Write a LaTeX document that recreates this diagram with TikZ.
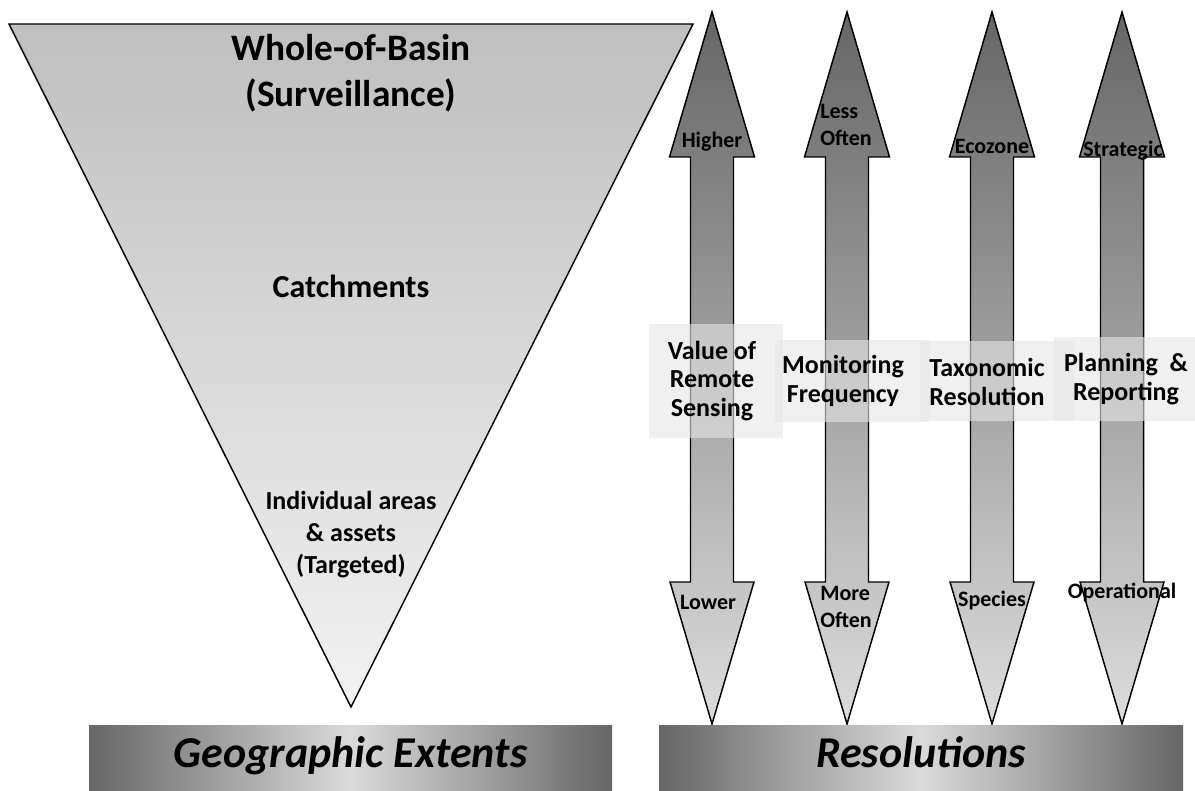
\documentclass[tikz,border=0pt]{standalone}
\usepackage{fontspec}
\setmainfont{Carlito}
\definecolor{trtop}{HTML}{BFBFBF}
\definecolor{trbot}{HTML}{F2F2F2}
\definecolor{artop}{HTML}{666666}
\definecolor{arbot}{HTML}{DCDCDC}
\definecolor{bardark}{HTML}{666666}
\definecolor{barlight}{HTML}{DADADA}
\definecolor{boxgray}{HTML}{E6E6E6}
\begin{document}
\begin{tikzpicture}[x=0.75pt,y=-0.75pt,
  tri/.style={draw=black, line width=1.1pt, top color=trtop, bottom color=trbot},
  dblarrow/.style={draw=black, line width=1.1pt, top color=artop, bottom color=arbot},
  barbox/.style={left color=bardark, right color=bardark, middle color=barlight,
    minimum width=393pt, minimum height=49.5pt, inner sep=0pt},
  bartxt/.style={font=\fontsize{33}{38}\selectfont\bfseries\itshape, inner sep=0pt, anchor=base},
  lblbox/.style={fill=boxgray, fill opacity=0.6, inner sep=0pt},
  lbltxt/.style={inner sep=0pt, align=center, font=\fontsize{19.5}{21.5}\selectfont\bfseries},
  headlbl/.style={font=\fontsize{16.5}{20}\selectfont\bfseries, inner sep=0pt},
  tritxt/.style={font=\fontsize{19.5}{24}\selectfont\bfseries, inner sep=0pt, align=center}
]
\useasboundingbox (0,0) rectangle (1195,791);
% funnel
\draw[tri] (9,24) -- (693,24) -- (351,707) -- cycle;
\node[inner sep=0pt, align=center, font=\fontsize{28}{34.5}\selectfont\bfseries] (whole) at (351,73) {Whole-of-Basin\\(Surveillance)};
\node[tritxt, font=\fontsize{24}{28}\selectfont\bfseries] (catch) at (351,286) {Catchments};
\node[tritxt] (indiv) at (351,535) {Individual areas\\\& assets\\(Targeted)};
% double arrows
\foreach \c in {712,847,992,1122}{
  \draw[dblarrow] (\c,12) -- (\c+42.5,157) -- (\c+21.5,157) -- (\c+21.5,582)
    -- (\c+42,582) -- (\c,724) -- (\c-42,582) -- (\c-21.5,582) -- (\c-21.5,157)
    -- (\c-42.5,157) -- cycle;
}
% head labels
\node[headlbl, anchor=base] (higher) at (712,148) {Higher};
\node[headlbl, align=left] (less) at (846,125) {Less\\Often};
\node[headlbl, anchor=base] (eco) at (992,154) {Ecozone};
\node[headlbl, anchor=base] (strat) at (1123,157) {Strategic};
\node[headlbl, anchor=base] (lower) at (708,609) {Lower};
\node[headlbl, align=left] (more) at (846,607) {More\\Often};
\node[headlbl, anchor=base] (species) at (992,606) {Species};
\node[headlbl, anchor=base] (oper) at (1122,598) {Operational};
% label boxes
\node[lblbox, minimum width=100.5pt, minimum height=85.5pt] (value) at (715.5,381) {};
\node[lblbox, minimum width=116.25pt, minimum height=61.5pt] (monit) at (852,381) {};
\node[lblbox, minimum width=115.5pt, minimum height=60pt] (taxo) at (997,381) {};
\node[lblbox, minimum width=105.75pt, minimum height=63pt] (plan) at (1124.5,379) {};
\node[lbltxt] (valuet) at (712,381) {Value of\\Remote\\Sensing};
\node[lbltxt] (monitt) at (843,381) {Monitoring\\Frequency};
\node[lbltxt] (taxot) at (987,382) {Taxonomic\\Resolution};
\node[lbltxt] (plant) at (1126,379) {Planning\ \ \&\\Reporting};
% bottom bars
\node[barbox, minimum width=392.25pt] (geo) at (350.5,758) {};
\node[barbox] (res) at (921,758) {};
\node[bartxt] (geot) at (350.5,767) {Geographic Extents};
\node[bartxt] (rest) at (921,767) {Resolutions};
\end{tikzpicture}
\end{document}
